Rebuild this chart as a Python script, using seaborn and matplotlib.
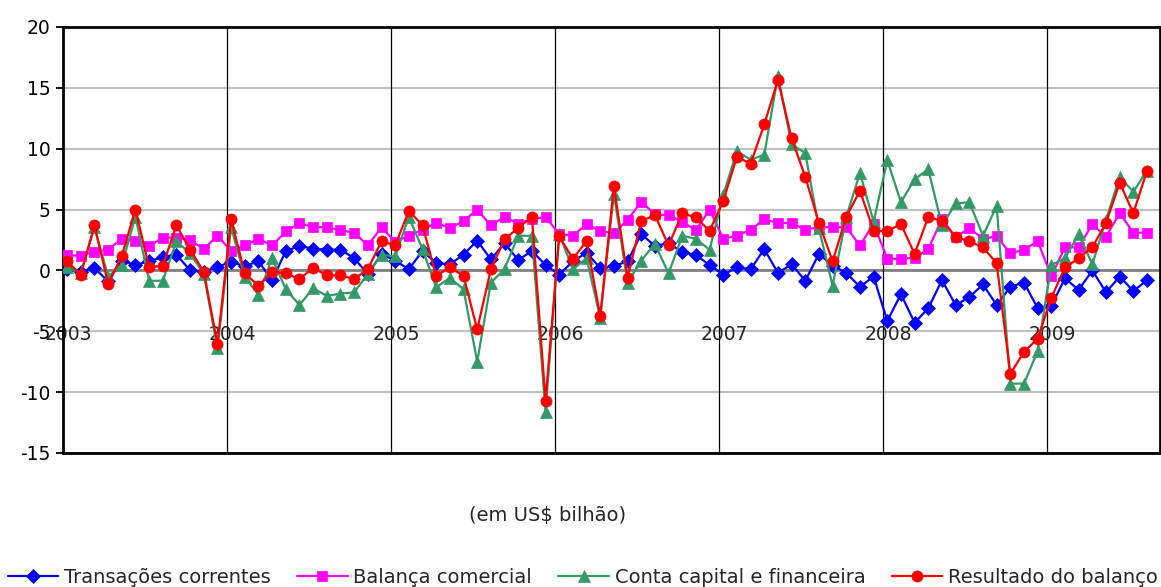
import numpy as np
import pandas as pd
import matplotlib
matplotlib.use("Agg")
import matplotlib.pyplot as plt
import seaborn as sns

# Monthly balance-of-payments flows, Jan 2003 - Aug 2009 (US$ billion)
years = ["2003", "2004", "2005", "2006", "2007", "2008", "2009"]

transacoes = [
    0.1, -0.1, 0.2, -0.9, 0.8, 0.45, 0.75, 1.1, 1.3, 0.0, -0.1, 0.3, 0.7,
    0.35, 0.75, -0.8, 1.6, 2.0, 1.8, 1.7, 1.7, 1.0, -0.3, 1.35, 0.8,
    0.1, 1.6, 0.6, 0.5, 1.3, 2.45, 0.9, 2.25, 0.85, 1.6, 0.45, -0.35,
    0.75, 1.45, 0.2, 0.35, 0.75, 3.0, 2.0, 2.25, 1.5, 1.25, 0.45, -0.35,
    0.25, 0.1, 1.75, -0.2, 0.5, -0.85, 1.35, 0.4, -0.2, -1.35, -0.5, -4.15,
    -1.95, -4.3, -3.1, -0.8, -2.85, -2.2, -1.15, -2.85, -1.35, -1.0, -3.1, -2.9,
    -0.65, -1.6, 0.0, -1.8, -0.5, -1.7, -0.8,
]

balanca = [
    1.25, 1.2, 1.55, 1.7, 2.6, 2.45, 2.0, 2.7, 2.7, 2.5, 1.75, 2.85, 1.6,
    2.05, 2.6, 2.05, 3.2, 3.9, 3.55, 3.55, 3.3, 3.1, 2.05, 3.55, 2.35,
    2.85, 3.35, 3.9, 3.5, 4.05, 5.0, 3.7, 4.4, 3.85, 4.2, 4.4, 3.0,
    2.85, 3.8, 3.25, 3.05, 4.15, 5.65, 4.6, 4.55, 4.0, 3.3, 5.0, 2.6,
    2.85, 3.35, 4.2, 3.9, 3.9, 3.35, 3.55, 3.55, 3.55, 2.05, 3.85, 0.95,
    0.95, 1.05, 1.75, 4.25, 2.75, 3.45, 2.6, 2.8, 1.4, 1.7, 2.4, -0.45,
    1.9, 1.9, 3.8, 2.75, 4.7, 3.1, 3.1,
]

conta_capital = [
    0.3, -0.2, 3.55, -0.5, 0.45, 4.4, -0.85, -0.85, 2.4, 1.4, -0.3, -6.4, 3.55,
    -0.55, -2.0, 1.0, -1.55, -2.85, -1.45, -2.1, -1.9, -1.8, -0.3, 1.3, 1.15,
    4.4, 1.75, -1.4, -0.6, -1.55, -7.5, -1.0, 0.1, 2.85, 2.85, -11.6, 3.0,
    0.1, 1.0, -3.9, 6.3, -1.0, 0.8, 2.2, -0.25, 2.85, 2.6, 1.7, 6.2,
    9.8, 9.1, 9.5, 16.0, 10.35, 9.65, 3.45, -1.25, 4.4, 8.0, 4.0, 9.05,
    5.6, 7.5, 8.3, 3.7, 5.5, 5.6, 2.85, 5.3, -9.3, -9.3, -6.65, 0.45,
    1.0, 3.0, 0.5, 4.15, 7.7, 6.45, 8.2,
]

resultado = [
    0.75, -0.35, 3.7, -1.1, 1.2, 5.0, 0.25, 0.4, 3.7, 1.7, -0.1, -6.05, 4.2,
    -0.25, -1.25, -0.1, -0.25, -0.7, 0.2, -0.4, -0.4, -0.7, 0.1, 2.4, 2.05,
    4.9, 3.7, -0.45, 0.25, -0.45, -4.85, 0.1, 2.55, 3.5, 4.4, -10.7, 2.8,
    0.95, 2.4, -3.75, 6.9, -0.6, 4.05, 4.55, 2.05, 4.7, 4.35, 3.25, 5.7,
    9.35, 8.75, 12.0, 15.65, 10.85, 7.7, 3.9, 0.75, 4.4, 6.55, 3.25, 3.25,
    3.8, 1.35, 4.4, 4.05, 2.75, 2.4, 1.9, 0.6, -8.5, -6.7, -5.6, -2.25,
    0.25, 1.0, 1.9, 3.9, 7.2, 4.7, 8.2,
]

series = [
    ("Transações correntes", transacoes, "#0000FF", "D", 7.5),
    ("Balança comercial", balanca, "#FF00FF", "s", 7.0),
    ("Conta capital e financeira", conta_capital, "#339966", "^", 8.5),
    ("Resultado do balanço", resultado, "#FF0000", "o", 8.0),
]

months = np.arange(len(transacoes))

sns.set_style("white")
plt.rcParams["font.family"] = ["DejaVu Sans"]
plt.rcParams["axes.unicode_minus"] = False

fig = plt.figure(figsize=(11.61, 5.87), dpi=100)
ax = fig.add_axes([63 / 1161, 134 / 587, 1097 / 1161, 426 / 587])

for z, (name, values, color, marker, ms) in enumerate(series):
    df = pd.DataFrame({"mes": months, "valor": values})
    sns.lineplot(data=df, x="mes", y="valor", ax=ax, color=color, marker=marker,
                 markersize=ms, markeredgecolor=color, markeredgewidth=0.5,
                 linewidth=1.6, label=name, zorder=3 + z)

# grid: horizontal every 5, darker zero line, black year separators
ax.set_ylim(-15, 20)
ax.set_xlim(-0.3, 79.95)
ax.set_yticks(np.arange(-15, 21, 5))
ax.yaxis.grid(True, color="#c0c0c0", linewidth=1.5, zorder=0)
ax.set_axisbelow(True)
ax.axhline(0, color="#808080", linewidth=2, zorder=1.5)
for k in range(1, len(years)):
    ax.axvline(12 * k - 0.3, color="black", linewidth=0.9, zorder=1.6)

for k, yr in enumerate(years):
    ax.text(12 * k + 0.1, -5.3, yr, ha="center", va="center", fontsize=13.5,
            zorder=2)

ax.set_xticks([])
ax.set_xlabel("")
ax.set_ylabel("")
ax.tick_params(axis="y", direction="out", length=5, width=1.3, left=True,
               labelsize=13.5, pad=4, colors="black")
for sp in ax.spines.values():
    sp.set_color("black")
    sp.set_linewidth(2)

handles, labels = ax.get_legend_handles_labels()
ax.get_legend().remove()

fig.text(548 / 1161, 1 - 515 / 587, "(em US$ bilhão)", ha="center",
         va="center", fontsize=14)

fig.legend(handles, labels, loc="center", bbox_to_anchor=(0.502, 0.017),
           ncol=4, frameon=False, fontsize=14, handlelength=2.6,
           columnspacing=1.35, handletextpad=0.3, borderaxespad=0)

fig.savefig("out.png", dpi=100)
